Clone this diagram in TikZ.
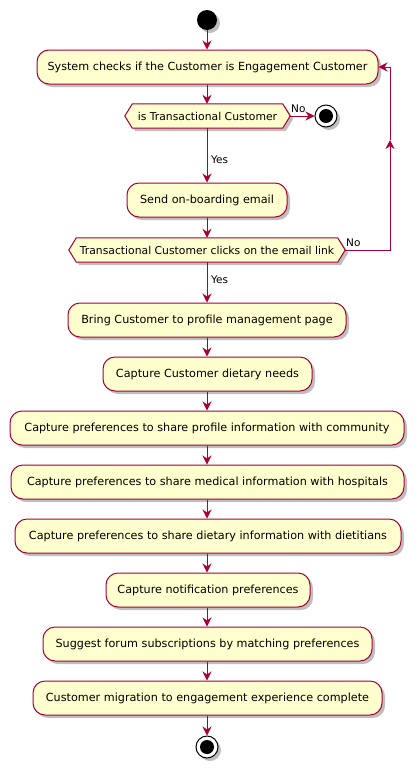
\documentclass[tikz,border=0pt]{standalone}
\usepackage{fontspec}
\setmainfont{DejaVu Sans}
\usetikzlibrary{arrows.meta,shadows,backgrounds}
\definecolor{pborder}{HTML}{A80036}
\definecolor{pfill}{HTML}{FEFECE}
\begin{document}
\begin{tikzpicture}[x=1pt,y=-1pt,
  shad/.style={drop shadow={shadow xshift=3pt,shadow yshift=-3pt,opacity=0.25,fill=black}},
  act/.style={draw=pborder, fill=pfill, line width=1pt, rounded corners=12pt, minimum height=34pt, inner sep=0pt, font=\fontsize{11.2}{13}\selectfont, shad},
  hexnode/.style={draw=none, fill=none, minimum height=24pt, inner sep=0pt, font=\fontsize{10.8}{12}\selectfont},
  hexline/.style={draw=pborder, fill=pfill, line width=1pt, shad},
  flow/.style={draw=pborder, line width=1pt, -{Stealth[length=9pt,width=9pt,inset=3pt]}},
  lbl/.style={font=\fontsize{10.5}{12}\selectfont, inner sep=0pt}
]
\useasboundingbox (0,0) rectangle (420,774);

% start
\node[circle, fill=black, minimum size=20pt, inner sep=0pt, shad] (start) at (207,20) {};

\node[act, minimum width=341pt] (b1) at (207.5,67) {System checks if the Customer is Engagement Customer};

\node[hexnode, minimum width=165pt] (d1) at (207.5,116) {is Transactional Customer};
\node[circle, draw=black, fill=white, line width=1pt, minimum size=22pt, inner sep=0pt, shad] (end1) at (326,116) {};
\node[circle, fill=black, minimum size=14pt, inner sep=0pt] (end1i) at (end1.center) {};

\node[act, minimum width=160pt] (b2) at (207,200) {Send on-boarding email};

\node[hexnode, minimum width=276pt] (d2) at (207,250) {Transactional Customer clicks on the email link};

\node[act, minimum width=278pt] (b3) at (207,320) {Bring Customer to profile management page};
\node[act, minimum width=209pt] (b4) at (207.5,374) {Capture Customer dietary needs};
\node[act, minimum width=394pt] (b5) at (207,428) {Capture preferences to share profile information with community};
\node[act, minimum width=393pt] (b6) at (207.5,482) {Capture preferences to share medical information with hospitals};
\node[act, minimum width=386pt] (b7) at (208,536) {Capture preferences to share dietary information with dietitians};
\node[act, minimum width=204pt] (b8) at (208,590) {Capture notification preferences};
\node[act, minimum width=329pt] (b9) at (207.5,644) {Suggest forum subscriptions by matching preferences};
\node[act, minimum width=349pt] (b10) at (207.5,698) {Customer migration to engagement experience complete};

\node[circle, draw=black, fill=white, line width=1pt, minimum size=22pt, inner sep=0pt, shad] (end2) at (207,747) {};
\node[circle, fill=black, minimum size=14pt, inner sep=0pt] (end2i) at (end2.center) {};

\begin{scope}[on background layer]
\draw[hexline] (d1.west) -- ([xshift=7.5pt]d1.north west) -- ([xshift=-7.5pt]d1.north east) -- (d1.east) -- ([xshift=-7.5pt]d1.south east) -- ([xshift=7.5pt]d1.south west) -- cycle;
\draw[hexline] (d2.west) -- ([xshift=7.5pt]d2.north west) -- ([xshift=-7.5pt]d2.north east) -- (d2.east) -- ([xshift=-7.5pt]d2.south east) -- ([xshift=7.5pt]d2.south west) -- cycle;
\end{scope}

% connectors
\draw[flow] (start) -- (b1.north -| start);
\draw[flow] (b1.south -| start) -- (d1.north -| start);
\draw[flow] (d1.east) -- (end1.west);
\node[lbl, anchor=west] (no1) at (291,109) {No};
\draw[flow] (d1.south -| start) -- (b2.north -| start);
\node[lbl, anchor=west] (yes1) at (211,160) {Yes};
\draw[flow] (b2.south -| start) -- (d2.north -| start);

\coordinate (lc1) at (390,250);
\coordinate (lc2) at (390,140);
\draw[flow] (d2.east) -- (lc1) -- (lc2);
\draw[flow] (lc2) |- (b1.east);
\node[lbl, anchor=west] (no2) at (346,243) {No};

\draw[flow] (d2.south -| start) -- (b3.north -| start);
\node[lbl, anchor=west] (yes2) at (211,280) {Yes};
\draw[flow] (b3.south -| start) -- (b4.north -| start);
\draw[flow] (b4.south -| start) -- (b5.north -| start);
\draw[flow] (b5.south -| start) -- (b6.north -| start);
\draw[flow] (b6.south -| start) -- (b7.north -| start);
\draw[flow] (b7.south -| start) -- (b8.north -| start);
\draw[flow] (b8.south -| start) -- (b9.north -| start);
\draw[flow] (b9.south -| start) -- (b10.north -| start);
\draw[flow] (b10.south -| start) -- (end2.north);
\end{tikzpicture}
\end{document}
